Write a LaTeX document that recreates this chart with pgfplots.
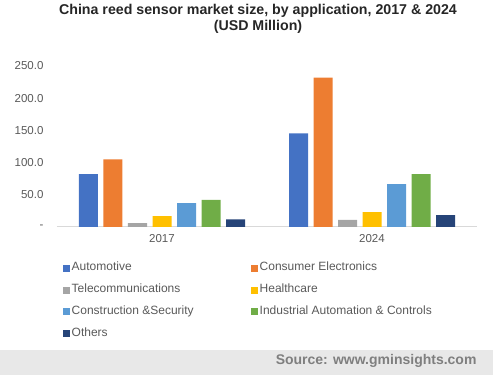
\documentclass[border=0pt]{standalone}
\usepackage{pgfplots}
\pgfplotsset{compat=1.18}
\usepackage{fontspec}
\setmainfont{Liberation Sans}
\definecolor{cAuto}{HTML}{4472C4}
\definecolor{cCE}{HTML}{ED7D31}
\definecolor{cTel}{HTML}{A5A5A5}
\definecolor{cHealth}{HTML}{FFC000}
\definecolor{cCons}{HTML}{5B9BD5}
\definecolor{cInd}{HTML}{70AD47}
\definecolor{cOth}{HTML}{264478}
\definecolor{txtgray}{HTML}{595959}
\definecolor{titlecol}{HTML}{262626}
\definecolor{bandgray}{HTML}{E8E8E8}
\definecolor{srcgray}{HTML}{7F7F7F}
\definecolor{axgray}{HTML}{D9D9D9}
\newcommand{\lb}[1]{\makebox[178pt][l]{#1}}
\begin{document}
\begin{tikzpicture}[x=1pt,y=1pt]
\path[use as bounding box] (0,0) rectangle (493,375);
\fill[bandgray] (0,0) rectangle (493,25);
\node[anchor=east, font=\bfseries\fontsize{14}{16}\selectfont, text=srcgray] at (480,14.5) {Source: www.gminsights.com};
\node[align=center, font=\bfseries\fontsize{14.2}{16}\selectfont, text=titlecol] at (258,356) {China reed sensor market size, by application, 2017 \& 2024\\(USD Million)};
\begin{axis}[
  at={(57pt,148pt)}, anchor=south west,
  scale only axis, width=420pt, height=161pt,
  ybar=5.5pt, bar width=19pt,
  xmin=-0.5, xmax=1.5, ymin=0, ymax=250,
  xtick={0,1}, xticklabels={2017,2024},
  ytick={0,50,100,150,200,250},
  yticklabels={-,50.0,100.0,150.0,200.0,250.0},
  axis x line*=bottom, axis y line*=left,
  x axis line style={draw=axgray, line width=1pt},
  y axis line style={draw=none},
  major tick length=0pt,
  tick style={draw=none},
  ticklabel style={font=\fontsize{11.5}{13}\selectfont, text=txtgray},
  yticklabel style={xshift=-10pt},
  xticklabel style={yshift=-4pt},
  /pgf/number format/assume math mode=true,
  legend columns=2,
  legend cell align=left,
  legend image code/.code={\fill[#1] (0pt,-3.5pt) rectangle (7pt,3.5pt);},
  legend style={draw=none, fill=none, at={(0,0)}, anchor=north west, xshift=3pt, yshift=-34pt,
    font=\fontsize{12}{13}\selectfont, text=txtgray, row sep=11.8pt,
    nodes={inner xsep=1.5pt, inner ysep=0pt, text height=7.5pt, text depth=2.5pt}},
]
\addplot[fill=cAuto, draw=none] coordinates {(0,82) (1,145.5)};
\addplot[fill=cCE, draw=none] coordinates {(0,105) (1,232)};
\addplot[fill=cTel, draw=none] coordinates {(0,6) (1,11)};
\addplot[fill=cHealth, draw=none] coordinates {(0,17) (1,23)};
\addplot[fill=cCons, draw=none] coordinates {(0,37) (1,66.5)};
\addplot[fill=cInd, draw=none] coordinates {(0,42) (1,82)};
\addplot[fill=cOth, draw=none] coordinates {(0,12) (1,18.5)};
\addlegendentry{\lb{Automotive}}
\addlegendentry{Consumer Electronics}
\addlegendentry{\lb{Telecommunications}}
\addlegendentry{Healthcare}
\addlegendentry{\lb{Construction \&Security}}
\addlegendentry{Industrial Automation \& Controls}
\addlegendentry{\lb{Others}}
\end{axis}
\end{tikzpicture}
\end{document}
